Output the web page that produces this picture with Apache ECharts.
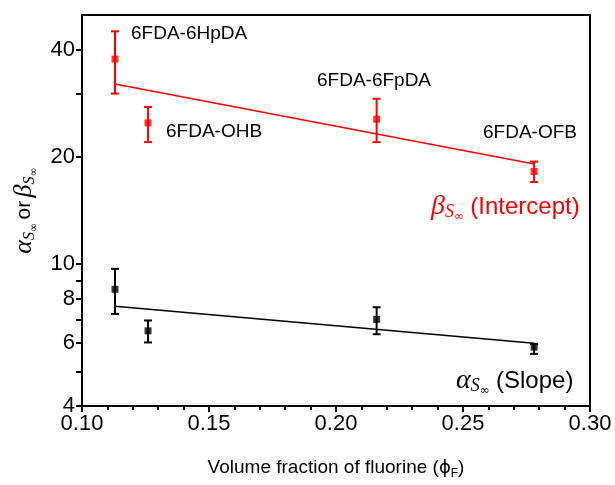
<!DOCTYPE html>
<html>
<head>
<meta charset="utf-8">
<script src="https://cdn.jsdelivr.net/npm/echarts@6/dist/echarts.min.js"></script>
<style>html,body{margin:0;padding:0;background:#fff}#c{width:615px;height:485px}</style>
</head>
<body>
<div id="c"></div>
<script>
// ---- data ----
var phiF = [0.113, 0.126, 0.216, 0.278];
var beta = [37.6, 24.9, 25.5, 18.2];
var betaLow = [30.1, 22.0, 22.0, 17.0];
var betaHigh = [45.0, 27.6, 29.1, 19.4];
var alpha = [8.5, 6.5, 7.0, 5.85];
var alphaLow = [7.25, 6.03, 6.36, 5.6];
var alphaHigh = [9.7, 6.95, 7.57, 5.97];
var fitX = [0.113, 0.278];
var betaFit = [32.0, 19.1];
var alphaFit = [7.62, 6.0];
var yLabelValues = [4, 6, 8, 10, 20, 40];
var yTickValues = [4, 5, 6, 7, 8, 9, 10, 20, 30, 40];
var sampleNames = ['6FDA-6HpDA', '6FDA-OHB', '6FDA-6FpDA', '6FDA-OFB'];

function pairs(xs, ys) { return xs.map(function (x, i) { return [x, ys[i]]; }); }
function errData(xs, lo, hi) { return xs.map(function (x, i) { return [x, lo[i], hi[i]]; }); }

function errRender(color) {
  return function (params, api) {
    var x = api.value(0);
    var lo = api.coord([x, api.value(1)]);
    var hi = api.coord([x, api.value(2)]);
    var w = 4;
    var st = { stroke: color, lineWidth: 2 };
    return {
      type: 'group',
      children: [
        { type: 'line', shape: { x1: lo[0], y1: lo[1], x2: hi[0], y2: hi[1] }, style: st },
        { type: 'line', shape: { x1: lo[0] - w, y1: lo[1], x2: lo[0] + w, y2: lo[1] }, style: st },
        { type: 'line', shape: { x1: hi[0] - w, y1: hi[1], x2: hi[0] + w, y2: hi[1] }, style: st }
      ]
    };
  };
}

var FONT = 'Liberation Sans, Arial, sans-serif';
var SERIF = 'Liberation Serif, Times New Roman, serif';
var greekRich = {
  g: { fontFamily: SERIF, fontStyle: 'italic', fontSize: 28, lineHeight: 32, verticalAlign: 'middle' },
  s: { fontFamily: SERIF, fontStyle: 'italic', fontSize: 18, lineHeight: 18, verticalAlign: 'bottom', padding: [0, 0, 2, 0] },
  i: { fontFamily: 'DejaVu Sans, sans-serif', fontSize: 12, lineHeight: 12, verticalAlign: 'bottom' },
  t: { fontFamily: FONT, fontSize: 24, lineHeight: 32, verticalAlign: 'middle', padding: [0, 0, 0, 3] }
};

var chart = echarts.init(document.getElementById('c'));
chart.setOption({
  animation: false,
  backgroundColor: '#fff',
  grid: { left: 82, right: 25, top: 15, bottom: 75, show: true, borderColor: '#000', borderWidth: 2 },
  xAxis: {
    type: 'value', min: 0.10, max: 0.30, interval: 0.05,
    name: 'Volume fraction of fluorine ({p|ϕ}{f|F})',
    nameLocation: 'middle', nameGap: 50,
    nameTextStyle: {
      fontFamily: FONT, fontSize: 19, color: '#000',
      rich: {
        p: { fontFamily: 'DejaVu Sans, sans-serif', fontSize: 18, lineHeight: 24, verticalAlign: 'middle' },
        f: { fontFamily: FONT, fontSize: 12, lineHeight: 12, verticalAlign: 'bottom' }
      }
    },
    axisLine: { lineStyle: { color: '#000', width: 2 } },
    axisTick: { inside: false, length: 6, lineStyle: { color: '#000', width: 2 } },
    minorTick: { show: true, splitNumber: 5, length: 4, lineStyle: { color: '#000', width: 2 } },
    axisLabel: { fontFamily: FONT, fontSize: 22, color: '#000', margin: 7, formatter: function (v) { return v.toFixed(2); } },
    splitLine: { show: false }
  },
  yAxis: {
    type: 'log', logBase: 10, min: 4, max: 50,
    name: '{g|α}{s|S}{i|∞} {t|or} {g|β}{s|S}{i|∞}',
    nameLocation: 'middle', nameGap: 42, nameRotate: 90,
    nameTextStyle: { color: '#000', rich: {
      g: { fontFamily: SERIF, fontStyle: 'italic', fontSize: 26, lineHeight: 30, verticalAlign: 'middle' },
      s: { fontFamily: SERIF, fontStyle: 'italic', fontSize: 16, lineHeight: 16, verticalAlign: 'bottom', padding: [0, 0, 2, 0] },
      i: { fontFamily: 'DejaVu Sans, sans-serif', fontSize: 11, lineHeight: 11, verticalAlign: 'bottom' },
      t: { fontFamily: FONT, fontSize: 21, lineHeight: 30, verticalAlign: 'middle' }
    } },
    axisLine: { lineStyle: { color: '#000', width: 2 } },
    axisTick: { inside: false, length: 6, customValues: yTickValues, lineStyle: { color: '#000', width: 2 } },
    axisLabel: { fontFamily: FONT, fontSize: 22, color: '#000', margin: 7, customValues: yLabelValues },
    splitLine: { show: false }
  },
  graphic: [
    { type: 'text', left: 131, top: 24, style: { text: sampleNames[0], font: '19px ' + FONT, fill: '#000' } },
    { type: 'text', left: 166, top: 122, style: { text: sampleNames[1], font: '19px ' + FONT, fill: '#000' } },
    { type: 'text', left: 317, top: 71, style: { text: sampleNames[2], font: '19px ' + FONT, fill: '#000' } },
    { type: 'text', left: 483, top: 123, style: { text: sampleNames[3], font: '19px ' + FONT, fill: '#000' } },
    { type: 'text', left: 431, top: 193, style: { text: '{g|β}{s|S}{i|∞} {t|(Intercept)}', fill: '#ff0000', rich: greekRich } },
    { type: 'text', left: 456, top: 367, style: { text: '{g|α}{s|S}{i|∞} {t|(Slope)}', fill: '#000', rich: greekRich } }
  ],
  series: [
    { type: 'line', data: pairs(fitX, betaFit), symbol: 'none', lineStyle: { color: '#ff0000', width: 1.6 }, z: 2 },
    { type: 'line', data: pairs(fitX, alphaFit), symbol: 'none', lineStyle: { color: '#000', width: 1.6 }, z: 2 },
    { type: 'custom', data: errData(phiF, betaLow, betaHigh), renderItem: errRender('#ff0000'), z: 3 },
    { type: 'custom', data: errData(phiF, alphaLow, alphaHigh), renderItem: errRender('#000'), z: 3 },
    { type: 'scatter', data: pairs(phiF, beta), symbol: 'rect', symbolSize: 7, itemStyle: { color: '#ff0000' }, z: 4 },
    { type: 'scatter', data: pairs(phiF, alpha), symbol: 'rect', symbolSize: 7, itemStyle: { color: '#000' }, z: 4 }
  ]
});
</script>
</body>
</html>
